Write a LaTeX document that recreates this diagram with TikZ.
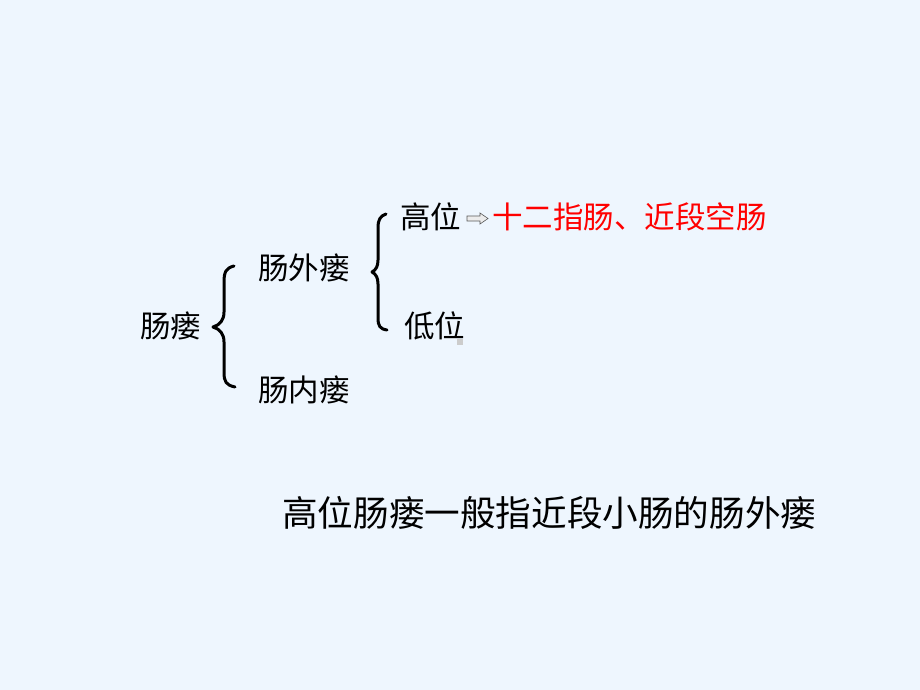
\documentclass[tikz,border=0pt]{standalone}
\usepackage{fontspec}
\newfontfamily\cjk{Noto Sans CJK SC}
\definecolor{bgblue}{HTML}{EEF6FE}
\definecolor{redtxt}{HTML}{FF0000}
\begin{document}
\begin{tikzpicture}[x=1pt,y=-1pt,
  lbl/.style={inner sep=0pt,anchor=west,font=\cjk\fontsize{30.5}{32}\selectfont,text=black},
  redlbl/.style={inner sep=0pt,anchor=west,font=\cjk\fontsize{30.5}{32}\selectfont,text=redtxt},
  bigtxt/.style={inner sep=0pt,anchor=west,font=\cjk\fontsize{35.6}{38}\selectfont,text=black},
  bracestroke/.style={draw=black,line width=3pt,line cap=round,line join=round},
  hollowarrow/.style={draw=gray!70!black,fill=gray!15,line width=0.6pt}]
\fill[bgblue] (0,0) rectangle (920,690);
\useasboundingbox (0,0) rectangle (920,690);

\node[lbl] (cl) at (140,326) {肠瘘};
\node[lbl] (cwl) at (258,268) {肠外瘘};
\node[lbl] (cnl) at (258,390) {肠内瘘};
\node[lbl] (gw) at (400,217) {高位};
\node[lbl] (dw) at (404,326) {低位};
\node[redlbl] (red) at (492,217) {十二指肠、近段空肠};
\node[bigtxt] (bottom) at (282,513) {高位肠瘘一般指近段小肠的肠外瘘};

% big brace
\draw[bracestroke] (234,266) .. controls (226,268) and (224,272) .. (224,282)
  -- (224,312) .. controls (224,320) and (220,325) .. (213,327)
  .. controls (220,329) and (224,334) .. (224,342)
  -- (224,372) .. controls (224,382) and (226,385) .. (235,387);
% small brace
\draw[bracestroke] (386,214) .. controls (380,216) and (378,220) .. (378,228)
  -- (378,260) .. controls (378,266) and (376,270) .. (372,272)
  .. controls (376,274) and (378,278) .. (378,284)
  -- (378,318) .. controls (378,326) and (380,329) .. (387,330);

% hollow arrow
\draw[hollowarrow] (467,216) -- (480,216) -- (480,213) -- (488,218.5) -- (480,224) -- (480,221) -- (467,221) -- cycle;

% small gray mark
\fill[gray!40] (457,339) rectangle (463,345);
\end{tikzpicture}
\end{document}
